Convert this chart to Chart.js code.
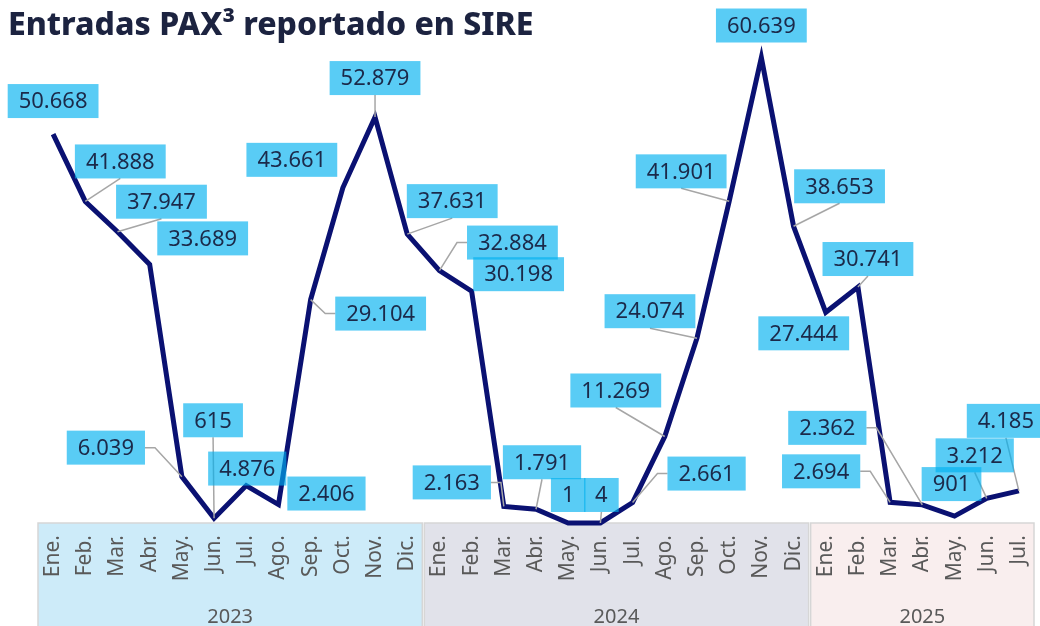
<!DOCTYPE html>
<html>
<head>
<meta charset="utf-8">
<script src="https://cdn.jsdelivr.net/npm/chart.js@4.4.1/dist/chart.umd.min.js"></script>
<style>
  html, body { margin: 0; padding: 0; background: #ffffff; }
  canvas { display: block; }
</style>
</head>
<body>
<canvas id="paxChart" width="1040" height="626"></canvas>
<script>
// Datos: entradas PAX reportadas en SIRE por mes
const months = ['Ene.', 'Feb.', 'Mar.', 'Abr.', 'May.', 'Jun.', 'Jul.', 'Ago.', 'Sep.', 'Oct.', 'Nov.', 'Dic.'];
const years = ['2023', '2024', '2025'];
const values2023 = [50668, 41888, 37947, 33689, 6039, 615, 4876, 2406, 29104, 43661, 52879, 37631];
const values2024 = [32884, 30198, 2163, 1791, 1, 4, 2661, 11269, 24074, 41901, 60639, 38653];
const values2025 = [27444, 30741, 2694, 2362, 901, 3212, 4185];

// Posición de las etiquetas (centro de la caja respecto al punto, en px) y tipo de línea guía
const labelOffsets = [
  [0, -33], [35, -40], [44, -30], [53, -26], [-76, -29], [-1, -98], [1, -17], [48, -11], [70, 14], [-51, -28], [0, -39], [45, -33],
  [73, -28], [47, -17], [-52, -24], [6, -47], [0, -28], [1, -28], [74, -29], [-49, -46], [-47, -27], [-48, -30], [0, -32], [46, -40],
  [-22, 21], [10, -28], [-69, -31], [-95, -77], [-3, -32], [-12, -43], [-13, -70]
];
// '' = sin línea, 'b' = desde el borde inferior, 's' = desde el lateral
const leaderModes = [
  '', 'b', 'b', '', 's', 'b', '', '', 's', '', 'b', 'b',
  's', '', 's', 'b', '', 'b', 's', 'b', 'b', 'b', '', 'b',
  '', 'b', 's', 's', '', 'b', 'b'
];

const yearSeries = [values2023, values2024, values2025];
const labels = [];
const values = [];
yearSeries.forEach(serie => {
  serie.forEach((v, i) => {
    labels.push(months[i]);
    values.push(v);
  });
});

const FONT = '"Noto Sans", "Open Sans", sans-serif';
const bandColors = ['#cdebf9', '#e1e2ea', '#f9eeee'];

function fmt(v) {
  return String(v).replace(/\B(?=(\d{3})+(?!\d))/g, '.');
}

// Fondos de año + etiquetas de año debajo de los meses
const yearBands = {
  id: 'yearBands',
  beforeDraw(chart) {
    const ctx = chart.ctx;
    const x = chart.scales.x;
    const area = chart.chartArea;
    const step = x.getPixelForValue(1) - x.getPixelForValue(0);
    let start = 0;
    ctx.save();
    yearSeries.forEach((serie, k) => {
      const x0 = x.getPixelForValue(start) - step / 2;
      const x1 = x.getPixelForValue(start + serie.length - 1) + step / 2;
      ctx.fillStyle = bandColors[k];
      ctx.fillRect(x0 + 1, area.bottom, x1 - x0 - 2, chart.height - area.bottom + 5);
      ctx.strokeStyle = '#d6d6d6';
      ctx.lineWidth = 1.5;
      ctx.strokeRect(x0 + 1, area.bottom, x1 - x0 - 2, chart.height - area.bottom + 5);
      ctx.fillStyle = '#595959';
      ctx.font = '20px ' + FONT;
      ctx.textAlign = 'center';
      ctx.textBaseline = 'alphabetic';
      ctx.fillText(years[k], (x0 + x1) / 2, 623);
      start += serie.length;
    });
    ctx.restore();
  }
};

// Cajas con valores y líneas guía
const valueBoxes = {
  id: 'valueBoxes',
  afterDatasetsDraw(chart) {
    const ctx = chart.ctx;
    const meta = chart.getDatasetMeta(0);
    ctx.save();
    ctx.font = '22px ' + FONT;
    const boxes = meta.data.map((pt, i) => {
      const text = fmt(values[i]);
      const w = ctx.measureText(text).width + 22;
      const h = 34;
      const cx = pt.x + labelOffsets[i][0];
      const cy = pt.y + labelOffsets[i][1];
      return { text, px: pt.x, py: pt.y, x0: cx - w / 2, x1: cx + w / 2, y0: cy - h / 2, y1: cy + h / 2, cx, cy };
    });

    // líneas guía
    ctx.strokeStyle = '#a6a6a6';
    ctx.lineWidth = 1.5;
    boxes.forEach((b, i) => {
      const mode = leaderModes[i];
      if (!mode) return;
      ctx.beginPath();
      if (mode === 'b') {
        const sy = b.py > b.cy ? b.y1 : b.y0;
        ctx.moveTo(b.cx, sy);
      } else {
        const left = b.px < b.cx;
        const sx = left ? b.x0 : b.x1;
        ctx.moveTo(sx, b.cy);
        ctx.lineTo(sx + (left ? -10 : 10), b.cy);
      }
      ctx.lineTo(b.px, b.py);
      ctx.stroke();
    });

    // cajas
    ctx.textAlign = 'center';
    ctx.textBaseline = 'middle';
    boxes.forEach(b => {
      ctx.fillStyle = 'rgba(0, 176, 240, 0.65)';
      ctx.fillRect(b.x0, b.y0, b.x1 - b.x0, b.y1 - b.y0);
      ctx.fillStyle = '#1b2a4a';
      ctx.fillText(b.text, b.cx, b.cy + 1);
    });
    ctx.restore();
  }
};

// Título
const titlePlugin = {
  id: 'titleText',
  afterDraw(chart) {
    const ctx = chart.ctx;
    const title = 'Entradas PAX³ reportado en SIRE';
    ctx.save();
    let size = 28;
    ctx.font = '800 ' + size + 'px ' + FONT;
    const w = ctx.measureText(title).width;
    size = Math.min(32, size * 527 / w);
    ctx.font = '800 ' + size + 'px ' + FONT;
    ctx.fillStyle = '#1c2340';
    ctx.textAlign = 'left';
    ctx.textBaseline = 'alphabetic';
    ctx.fillText(title, 8, 35);
    ctx.restore();
  }
};

const canvas = document.getElementById('paxChart');
new Chart(canvas.getContext('2d'), {
  type: 'line',
  data: {
    labels: labels,
    datasets: [{
      label: 'Entradas PAX',
      data: values,
      borderColor: '#0a1172',
      borderWidth: 5,
      borderJoinStyle: 'miter',
      pointRadius: 0,
      tension: 0,
      clip: false
    }]
  },
  options: {
    responsive: false,
    animation: false,
    layout: { padding: { left: 37, right: 5, top: 1, bottom: 0 } },
    scales: {
      x: {
        offset: true,
        grid: { display: false, drawTicks: false, offset: true },
        border: { display: false },
        ticks: {
          autoSkip: false,
          minRotation: 90,
          maxRotation: 90,
          padding: 12,
          color: '#595959',
          font: { family: FONT, size: 21 }
        },
        afterFit(scale) {
          scale.height = 103;
          scale.paddingLeft = 0;
          scale.paddingRight = 0;
        }
      },
      y: { display: false, min: 0, max: 68000 }
    },
    plugins: {
      legend: { display: false },
      tooltip: { enabled: false }
    }
  },
  plugins: [yearBands, valueBoxes, titlePlugin]
});
</script>
</body>
</html>
